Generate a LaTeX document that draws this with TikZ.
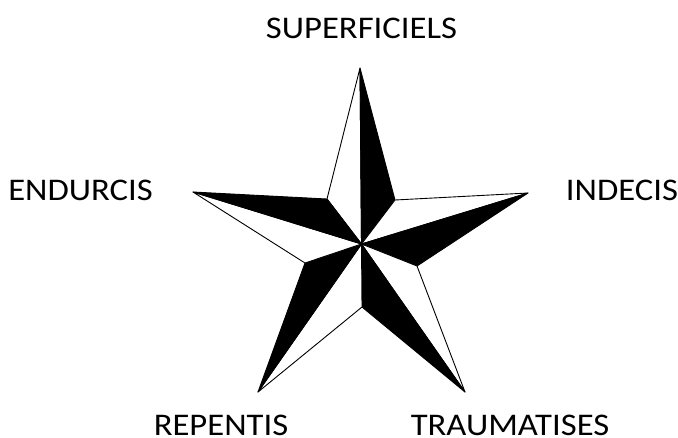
\documentclass[tikz,border=0pt]{standalone}
\usepackage{fontspec}
\setmainfont{Carlito}[FakeStretch=1.1]
\begin{document}
\begin{tikzpicture}[x=1pt,y=-1pt,
  lbl/.style={font=\fontsize{31.5}{36}\selectfont, anchor=base, inner sep=0pt},
  halfw/.style={fill=white, draw=black, line width=0.9pt, line join=round},
  halfb/.style={fill=black, draw=black, line width=0.9pt, line join=round}]
\useasboundingbox (0,0) rectangle (678,437);
% vertices
\coordinate (C) at (361.5,244);
\coordinate (T) at (360,68);
\coordinate (IUR) at (395,200);
\coordinate (R) at (528,193);
\coordinate (IRL) at (417,266);
\coordinate (BR) at (465,392);
\coordinate (IB) at (362,307);
\coordinate (BL) at (258,392);
\coordinate (ILL) at (305,263);
\coordinate (L) at (193,192);
\coordinate (IUL) at (327,199);
% arms
\draw[halfw] (C) -- (IUL) -- (T) -- cycle;
\draw[halfb] (C) -- (T) -- (IUR) -- cycle;
\draw[halfw] (C) -- (IUR) -- (R) -- cycle;
\draw[halfb] (C) -- (R) -- (IRL) -- cycle;
\draw[halfw] (C) -- (IRL) -- (BR) -- cycle;
\draw[halfb] (C) -- (BR) -- (IB) -- cycle;
\draw[halfw] (C) -- (IB) -- (BL) -- cycle;
\draw[halfb] (C) -- (BL) -- (ILL) -- cycle;
\draw[halfw] (C) -- (ILL) -- (L) -- cycle;
\draw[halfb] (C) -- (L) -- (IUL) -- cycle;
% labels
\node[lbl] (sup) at (361.5,38) {SUPERFICIELS};
\node[lbl] (end) at (80.5,200) {ENDURCIS};
\node[lbl] (ind) at (622,200) {INDECIS};
\node[lbl] (rep) at (221,435) {REPENTIS};
\node[lbl] (tra) at (510,435) {TRAUMATISES};
\end{tikzpicture}
\end{document}
